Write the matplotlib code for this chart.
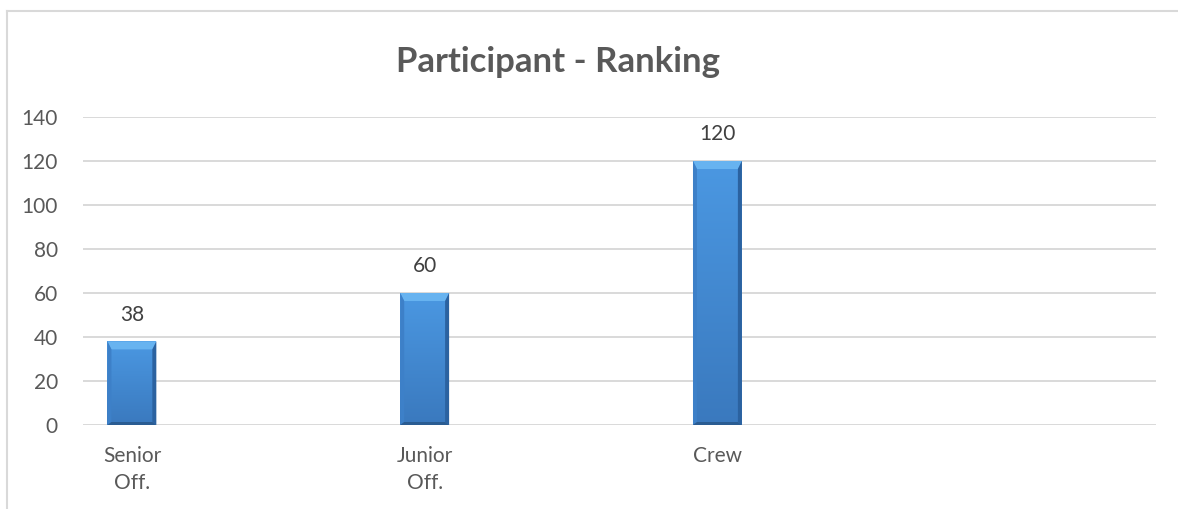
import numpy as np
import matplotlib.pyplot as plt
from matplotlib.colors import LinearSegmentedColormap
from matplotlib.patches import Polygon
from matplotlib.lines import Line2D

categories = ['Senior\nOff.', 'Junior\nOff.', 'Crew']
counts = [38, 60, 120]
y_ticks = [0, 20, 40, 60, 80, 100, 120, 140]

plt.rcParams['font.family'] = ['Lato', 'DejaVu Sans']

W, H = 1178, 509
fig = plt.figure(figsize=(W / 100, H / 100), dpi=100)
ax = fig.add_axes([83 / W, 84 / H, 1073 / W, 308 / H])

x = np.arange(len(counts))
bar_w = 0.167
bars = ax.bar(x, counts, width=bar_w, color='#4a90d9', zorder=2)

xlim = (-0.167, 3.498)
ylim = (0, 140)

# vertical gradient inside each bar plus a bevelled rim
shade = LinearSegmentedColormap.from_list('shade', ['#3a79be', '#4b98e2'])
grad = np.linspace(0, 1, 256).reshape(-1, 1)
px_x = 1073 / (xlim[1] - xlim[0])
px_y = 308 / (ylim[1] - ylim[0])
bx_side = 4 / px_x
by_top = 8 / px_y
by_bot = 3 / px_y
for patch in bars:
    x0 = patch.get_x()
    x1 = x0 + patch.get_width()
    h = patch.get_height()
    ax.imshow(grad, extent=[x0, x1, 0, h], aspect='auto', cmap=shade,
              origin='lower', clip_path=patch, zorder=2.1)
    rims = [
        ([(x0, h), (x1, h), (x1 - bx_side, h - by_top), (x0 + bx_side, h - by_top)], '#67b3f0'),
        ([(x0, 0), (x0, h), (x0 + bx_side, h - by_top), (x0 + bx_side, by_bot)], '#3d80c8'),
        ([(x1, 0), (x1, h), (x1 - bx_side, h - by_top), (x1 - bx_side, by_bot)], '#2b62a0'),
        ([(x0, 0), (x1, 0), (x1 - bx_side, by_bot), (x0 + bx_side, by_bot)], '#2a5c92'),
    ]
    for pts, col in rims:
        ax.add_patch(Polygon(pts, closed=True, facecolor=col, edgecolor='none', zorder=2.2))

for xi, v in zip(x, counts):
    ax.annotate(str(v), (xi, v), xytext=(0, 12), textcoords='offset points',
                ha='center', va='bottom', fontsize=15, color='#404040')

ax.set_xlim(*xlim)
ax.set_ylim(*ylim)
ax.set_yticks(y_ticks)
ax.set_xticks(x)
ax.set_xticklabels(categories, linespacing=1.45)
ax.tick_params(axis='both', length=0, labelsize=15, labelcolor='#595959')
ax.tick_params(axis='y', pad=18)
ax.tick_params(axis='x', pad=15)
ax.yaxis.grid(True, color='#d9d9d9', linewidth=1.4, zorder=0)
ax.set_axisbelow(True)
for s in ax.spines.values():
    s.set_visible(False)

fig.text(558 / W, 1 - 72 / H, 'Participant - Ranking', ha='center', va='baseline',
         fontsize=25, fontweight='bold', color='#595959')

# chart frame, top and left edges
fig.add_artist(Line2D([7 / W, 1], [1 - 11 / H, 1 - 11 / H], color='#d9d9d9', linewidth=1.5))
fig.add_artist(Line2D([7 / W, 7 / W], [0, 1 - 11 / H], color='#d9d9d9', linewidth=1.5))

fig.savefig('out.png', dpi=100)
